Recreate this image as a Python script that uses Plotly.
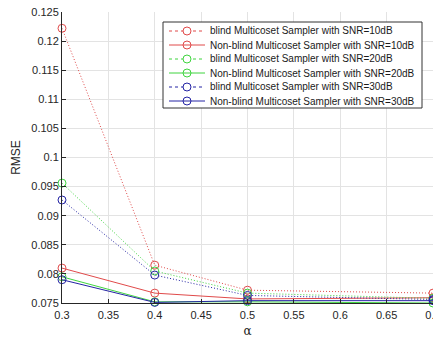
import plotly.graph_objects as go

alpha = [0.3, 0.4, 0.5, 0.7]

blind_10 = [0.1222, 0.0815, 0.0772, 0.0767]
nonblind_10 = [0.0810, 0.0767, 0.0757, 0.0759]
blind_20 = [0.0956, 0.0805, 0.0767, 0.0758]
nonblind_20 = [0.0795, 0.0752, 0.0752, 0.0750]
blind_30 = [0.0927, 0.0798, 0.0763, 0.0756]
nonblind_30 = [0.0790, 0.0751, 0.0754, 0.0754]

names = [
    "blind Multicoset Sampler with SNR=10dB",
    "Non-blind Multicoset Sampler with SNR=10dB",
    "blind Multicoset Sampler with SNR=20dB",
    "Non-blind Multicoset Sampler with SNR=20dB",
    "blind Multicoset Sampler with SNR=30dB",
    "Non-blind Multicoset Sampler with SNR=30dB",
]
series = [blind_10, nonblind_10, blind_20, nonblind_20, blind_30, nonblind_30]
colors = ["#e04a4a", "#e04a4a", "#3fd43f", "#3fd43f", "#2424a4", "#2424a4"]
dashes = ["1px,2px", "solid", "1px,2px", "solid", "1px,2px", "solid"]

x_ticks = [0.3, 0.35, 0.4, 0.45, 0.5, 0.55, 0.6, 0.65, 0.7]
y_ticks = [0.075, 0.08, 0.085, 0.09, 0.095, 0.1, 0.105, 0.11, 0.115, 0.12, 0.125]

W, H = 433, 338
ML, MR, MT, MB = 62, 0, 12, 35
PW, PH = W - ML - MR, H - MT - MB


def px(x):
    return (x - ML) / PW


def py(y):
    return (H - MB - y) / PH


fig = go.Figure()
for n, s, c, d in zip(names, series, colors, dashes):
    fig.add_trace(go.Scatter(
        x=alpha, y=s, name=n, mode="lines+markers",
        line=dict(color=c, width=1, dash=d),
        marker=dict(symbol="circle-open", size=8, color=c, line=dict(width=1, color=c)),
        cliponaxis=False, showlegend=False,
    ))

# custom compact legend (MATLAB-style)
shapes = [dict(type="rect", xref="paper", yref="paper",
               x0=px(163), x1=px(422), y0=py(108), y1=py(22),
               fillcolor="white", line=dict(color="#333333", width=1), layer="above")]
annotations = []
for i, (n, c, d) in enumerate(zip(names, colors, dashes)):
    yc = 31 + 14 * i
    shapes.append(dict(type="line", xref="paper", yref="paper",
                       x0=px(169), x1=px(205), y0=py(yc), y1=py(yc),
                       line=dict(color=c, width=1, dash="dot" if d != "solid" else "solid"),
                       layer="above"))
    shapes.append(dict(type="circle", xref="paper", yref="paper",
                       x0=px(183), x1=px(191), y0=py(yc + 4), y1=py(yc - 4),
                       fillcolor="rgba(0,0,0,0)" if d == "solid" else "white",
                       line=dict(color=c, width=1), layer="above"))
    annotations.append(dict(xref="paper", yref="paper", x=px(208), y=py(yc),
                            xanchor="left", yanchor="middle", showarrow=False,
                            text=n, font=dict(size=10, color="#1a1a1a")))

fig.update_layout(
    width=W, height=H,
    margin=dict(l=ML, r=MR, t=MT, b=MB),
    paper_bgcolor="white", plot_bgcolor="white",
    font=dict(family="Liberation Sans, Arial", size=11, color="#262626"),
    showlegend=False,
    shapes=shapes, annotations=annotations,
)
fig.update_xaxes(
    range=[0.3, 0.7], tickvals=x_ticks, ticktext=[f"{v:g}" for v in x_ticks],
    showgrid=True, gridcolor="#e3e3e3", gridwidth=1,
    showline=True, linecolor="#262626", linewidth=1,
    ticks="inside", ticklen=4, tickcolor="#262626", ticklabelstandoff=2,
    ticklabeloverflow="allow",
    title=dict(text="α", font=dict(family="DejaVu Serif", size=12), standoff=15),
    automargin=False, zeroline=False,
)
fig.update_yaxes(
    range=[0.075, 0.125], tickvals=y_ticks, ticktext=[f"{v:g}" for v in y_ticks],
    showgrid=True, gridcolor="#e3e3e3", gridwidth=1,
    showline=True, linecolor="#262626", linewidth=1,
    ticks="inside", ticklen=4, tickcolor="#262626",
    title=dict(text="RMSE", font=dict(size=12), standoff=8),
    automargin=False, zeroline=False,
)

fig.write_html("out.html")
